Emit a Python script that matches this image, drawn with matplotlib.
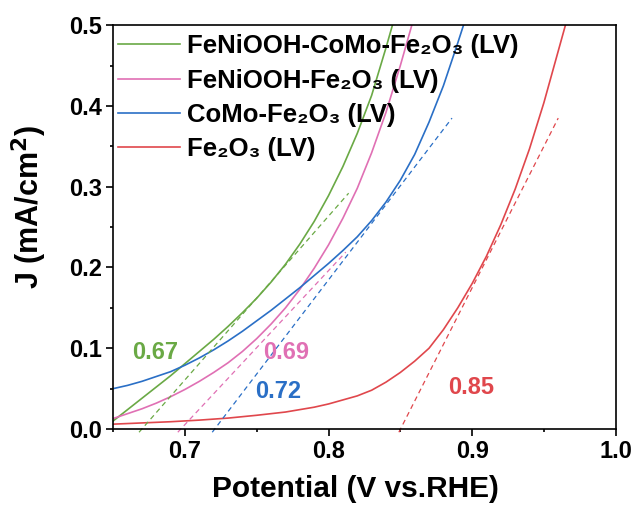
import matplotlib
matplotlib.use("Agg")
import matplotlib.pyplot as plt
from matplotlib.ticker import MultipleLocator

plt.rcParams['font.family'] = ['Liberation Sans', 'DejaVu Sans']
plt.rcParams['font.weight'] = 'bold'
plt.rcParams['mathtext.default'] = 'bf'

# solid LSV curves
v_green = [0.650, 0.660, 0.670, 0.680, 0.690, 0.700, 0.710, 0.720, 0.730, 0.740,
           0.750, 0.760, 0.770, 0.780, 0.790, 0.800, 0.810, 0.820, 0.830, 0.840, 0.8445]
j_green = [0.010, 0.024, 0.038, 0.052, 0.066, 0.081, 0.096, 0.111, 0.127, 0.144,
           0.162, 0.182, 0.204, 0.229, 0.257, 0.289, 0.325, 0.366, 0.413, 0.472, 0.500]

v_pink = [0.650, 0.660, 0.670, 0.680, 0.690, 0.700, 0.710, 0.720, 0.730, 0.740, 0.750,
          0.760, 0.770, 0.780, 0.790, 0.800, 0.810, 0.820, 0.830, 0.840, 0.850, 0.858]
j_pink = [0.013, 0.019, 0.025, 0.032, 0.040, 0.049, 0.059, 0.070, 0.082, 0.096, 0.112,
          0.130, 0.150, 0.173, 0.199, 0.228, 0.261, 0.298, 0.342, 0.392, 0.450, 0.500]

v_blue = [0.650, 0.660, 0.670, 0.680, 0.690, 0.700, 0.710, 0.720, 0.730, 0.740, 0.750,
          0.760, 0.770, 0.780, 0.790, 0.800, 0.810, 0.820, 0.830, 0.840, 0.850, 0.860,
          0.870, 0.880, 0.890, 0.894]
j_blue = [0.050, 0.054, 0.059, 0.065, 0.071, 0.079, 0.088, 0.098, 0.109, 0.121, 0.134,
          0.147, 0.161, 0.175, 0.190, 0.205, 0.221, 0.238, 0.258, 0.281, 0.308, 0.340,
          0.380, 0.425, 0.478, 0.500]

v_red = [0.650, 0.670, 0.690, 0.710, 0.730, 0.750, 0.770, 0.790, 0.800, 0.810, 0.820,
         0.830, 0.840, 0.850, 0.860, 0.870, 0.880, 0.890, 0.900, 0.910, 0.920, 0.930,
         0.940, 0.950, 0.960, 0.965]
j_red = [0.006, 0.0075, 0.009, 0.011, 0.0135, 0.017, 0.021, 0.027, 0.031, 0.036, 0.041,
         0.048, 0.058, 0.070, 0.084, 0.100, 0.123, 0.150, 0.180, 0.214, 0.253, 0.297,
         0.347, 0.404, 0.468, 0.500]

# tangent (dashed) lines: start / end points
tan_green = ([0.668, 0.814], [-0.004, 0.292])
tan_pink = ([0.695, 0.812], [-0.004, 0.219])
tan_blue = ([0.719, 0.886], [-0.004, 0.385])
tan_red = ([0.849, 0.960], [-0.004, 0.385])

labels = ['FeNiOOH-CoMo-Fe₂O₃ (LV)', 'FeNiOOH-Fe₂O₃ (LV)', 'CoMo-Fe₂O₃ (LV)', 'Fe₂O₃ (LV)']
onsets = ['0.67', '0.69', '0.72', '0.85']
colors = ['#6aa945', '#e070b4', '#2a6fc6', '#e0474c']

fig = plt.figure(figsize=(6.36, 5.15), dpi=100)
ax = fig.add_axes([0.178, 0.167, 0.790, 0.784])

curves = [(v_green, j_green), (v_pink, j_pink), (v_blue, j_blue), (v_red, j_red)]
for (v, j), c, lab in zip(curves, colors, labels):
    ax.plot(v, j, color=c, lw=1.2, label=lab)

tans = [tan_green, tan_pink, tan_blue, tan_red]
for (v, j), c in zip(tans, colors):
    ax.plot(v, j, color=c, lw=0.9, ls=(0, (4, 3)), clip_on=False)

# onset potential labels
ax.text(0.679, 0.095, onsets[0], color=colors[0], fontsize=17, ha='center', va='center')
ax.text(0.7706, 0.095, onsets[1], color=colors[1], fontsize=17, ha='center', va='center')
ax.text(0.765, 0.046, onsets[2], color=colors[2], fontsize=17, ha='center', va='center')
ax.text(0.899, 0.051, onsets[3], color=colors[3], fontsize=17, ha='center', va='center')

ax.set_xlim(0.65, 1.0)
ax.set_ylim(0.0, 0.5)
ax.xaxis.set_minor_locator(MultipleLocator(0.05))
ax.yaxis.set_major_locator(MultipleLocator(0.1))
ax.yaxis.set_minor_locator(MultipleLocator(0.05))
ax.set_xticks([0.7, 0.8, 0.9, 1.0])
ax.tick_params(which='major', direction='out', length=5, width=1.2, labelsize=17, pad=3)
ax.tick_params(which='minor', direction='out', length=2.5, width=1.2)
for s in ax.spines.values():
    s.set_linewidth(1.2)

ax.set_xlabel('Potential (V vs.RHE)', fontsize=21.5, fontweight='bold')
ax.xaxis.set_label_coords(0.482, -0.115)
ax.set_ylabel('J (mA/cm$^2$)', fontsize=22, fontweight='bold')
ax.yaxis.set_label_coords(-0.127, 0.55)

ax.legend(loc='upper left', bbox_to_anchor=(0.0, 0.99), frameon=False,
          fontsize=18.5, handlelength=2.4, handletextpad=0.27,
          labelspacing=0.4, borderaxespad=0.1, borderpad=0.1)

fig.savefig('out.png', dpi=100)
